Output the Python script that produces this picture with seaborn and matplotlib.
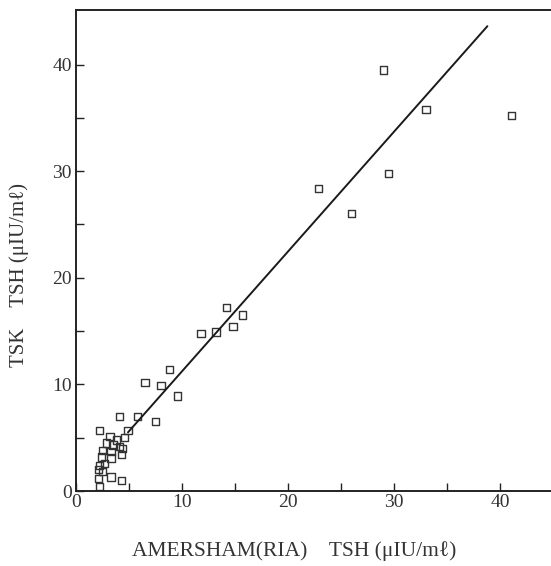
import matplotlib
matplotlib.use("Agg")
import matplotlib.pyplot as plt
import seaborn as sns
import pandas as pd

# Data (AMERSHAM RIA TSH vs TSK TSH, uIU/ml)
amersham_x = [29.0, 33.0, 41.1, 29.5, 22.9, 26.0,
              14.2, 15.7, 14.8, 11.8, 13.2, 8.8, 6.5, 8.0, 9.6, 7.5,
              5.8, 4.1, 4.9, 2.2, 3.2, 3.8, 4.6, 2.9, 3.5, 4.1, 4.4,
              2.5, 3.3, 4.3, 2.4, 3.3, 2.2, 2.7, 2.1, 2.5, 3.3, 4.3,
              2.1, 2.2]
tsk_y = [39.5, 35.8, 35.2, 29.8, 28.4, 26.0,
         17.2, 16.5, 15.4, 14.8, 14.9, 11.4, 10.2, 9.9, 8.9, 6.5,
         7.0, 7.0, 5.7, 5.7, 5.1, 4.8, 5.0, 4.5, 4.3, 4.2, 4.0,
         3.8, 3.7, 3.4, 3.2, 3.1, 2.4, 2.6, 2.0, 1.8, 1.3, 1.0,
         1.2, 0.4]

# Regression line endpoints
line_x = [4.9, 38.8]
line_y = [5.5, 43.6]

x_ticks = [0, 10, 20, 30, 40]
y_ticks = [0, 10, 20, 30, 40]

df = pd.DataFrame({"x": amersham_x, "y": tsk_y})
ldf = pd.DataFrame({"x": line_x, "y": line_y})

sns.set_style("white")
plt.rcParams["font.family"] = ["Liberation Serif", "DejaVu Serif"]

fig = plt.figure(figsize=(5.51, 5.66), dpi=100)
ax = fig.add_axes([0.138, 0.1325, 0.862, 0.8495])

sns.lineplot(data=ldf, x="x", y="y", ax=ax, color="#1a1a1a", linewidth=1.4)
sns.scatterplot(data=df, x="x", y="y", ax=ax, marker="s", s=28,
                facecolor="none", edgecolor="#333333", linewidth=1.0)

ax.set_xlim(0, 44.8)
ax.set_ylim(0, 45.1)
ax.set_xticks(x_ticks)
ax.set_yticks(y_ticks)
ax.set_xticks([5, 15, 25, 35], minor=True)
ax.set_yticks([5, 15, 25, 35], minor=True)
ax.tick_params(axis="both", which="both", direction="in", length=6,
               width=1, colors="#222222", labelsize=14, labelcolor="#333333",
               left=True, bottom=True)
ax.tick_params(axis="x", pad=2)
ax.tick_params(axis="y", pad=3)

for side in ["left", "bottom", "top"]:
    ax.spines[side].set_color("#222222")
    ax.spines[side].set_linewidth(1.4)
ax.spines["right"].set_visible(False)

fam = ["Liberation Serif", "DejaVu Serif", "Noto Sans CJK JP"]
ax.set_xlabel("AMERSHAM(RIA)　TSH (μIU/mℓ)", fontsize=15.5, color="#333333",
              family=fam)
ax.set_ylabel("TSK　TSH (μIU/mℓ)", fontsize=15, color="#333333", family=fam)
ax.xaxis.set_label_coords(0.46, -0.105)
ax.yaxis.set_label_coords(-0.098, 0.45)

fig.savefig("out.png", dpi=100, facecolor="white")
